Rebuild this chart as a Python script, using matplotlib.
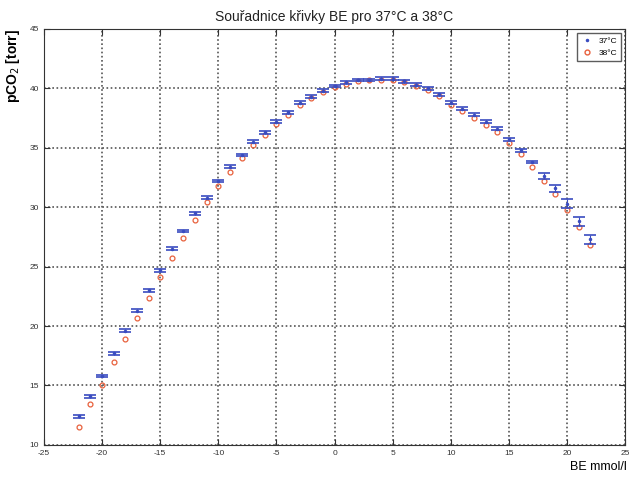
import matplotlib.pyplot as plt
from matplotlib.lines import Line2D
import numpy as np

plt.rcParams['font.family'] = ['Liberation Sans', 'DejaVu Sans']
plt.rcParams['axes.unicode_minus'] = False

be = list(range(-22, 23))
pco2_37 = [12.4, 14.1, 15.8, 17.7, 19.6, 21.3, 23.0, 24.7, 26.5, 28.0, 29.5,
           30.8, 32.2, 33.4, 34.4, 35.5, 36.3, 37.2, 38.0, 38.8, 39.3, 39.8,
           40.2, 40.5, 40.7, 40.7, 40.8, 40.8, 40.6, 40.3, 40.0, 39.5, 38.8,
           38.3, 37.8, 37.2, 36.6, 35.7, 34.8, 33.8, 32.6, 31.6, 30.3, 28.8, 27.3]
pco2_38 = [11.5, 13.4, 15.0, 17.0, 18.9, 20.7, 22.4, 24.1, 25.7, 27.4, 28.9,
           30.4, 31.8, 33.0, 34.1, 35.2, 36.1, 37.0, 37.8, 38.6, 39.2, 39.7,
           40.1, 40.4, 40.6, 40.7, 40.7, 40.7, 40.5, 40.2, 39.9, 39.4, 38.6,
           38.1, 37.5, 36.9, 36.3, 35.4, 34.5, 33.4, 32.2, 31.1, 29.8, 28.3, 26.8]
err_37 = [0.12] * 40 + [0.25, 0.3, 0.35, 0.35, 0.4]

blue = '#3a4cc0'
red = '#e8603c'

fig = plt.figure(figsize=(6.36, 4.83), dpi=100)
ax = fig.add_axes([0.069, 0.079, 0.914, 0.861])

ax.errorbar(be, pco2_37, yerr=err_37, fmt='.', color=blue, ms=3,
            elinewidth=0.8, capsize=4.5, capthick=1.2, zorder=3)
ax.plot(be, pco2_38, 'o', mfc='none', mec=red, ms=3.5, mew=0.9, zorder=2)

ax.set_xlim(-25, 25)
ax.set_ylim(10, 45)
ax.set_xticks(np.arange(-25, 26, 5))
ax.set_yticks(np.arange(10, 46, 5))
ax.grid(True, linestyle=(0, (1, 1.5)), color='#555555', linewidth=1.2)
ax.tick_params(labelsize=6, colors='#333333', direction='in', length=4,
               top=True, right=True)
for s in ax.spines.values():
    s.set_color('#333333')

ax.set_title('Souřadnice křivky BE pro 37°C a 38°C', fontsize=10, pad=6,
             color='#222222')
fig.text(0.02, 0.94, 'pCO$_2$ [torr]', rotation=90, fontsize=10,
         fontweight='bold', ha='center', va='top')
fig.text(0.985, 0.02, 'BE mmol/l', fontsize=9, ha='right', va='bottom')

handles = [Line2D([], [], ls='none', marker='.', color=blue, ms=3),
           Line2D([], [], ls='none', marker='o', mfc='none', mec=red, ms=3.5)]
leg = ax.legend(handles, ['37°C', '38°C'], loc='upper right', fontsize=6,
                frameon=True, fancybox=False, edgecolor='#333333',
                handlelength=1.2, borderpad=0.5)
leg.get_frame().set_linewidth(1.0)

fig.savefig('out.png', dpi=100)
